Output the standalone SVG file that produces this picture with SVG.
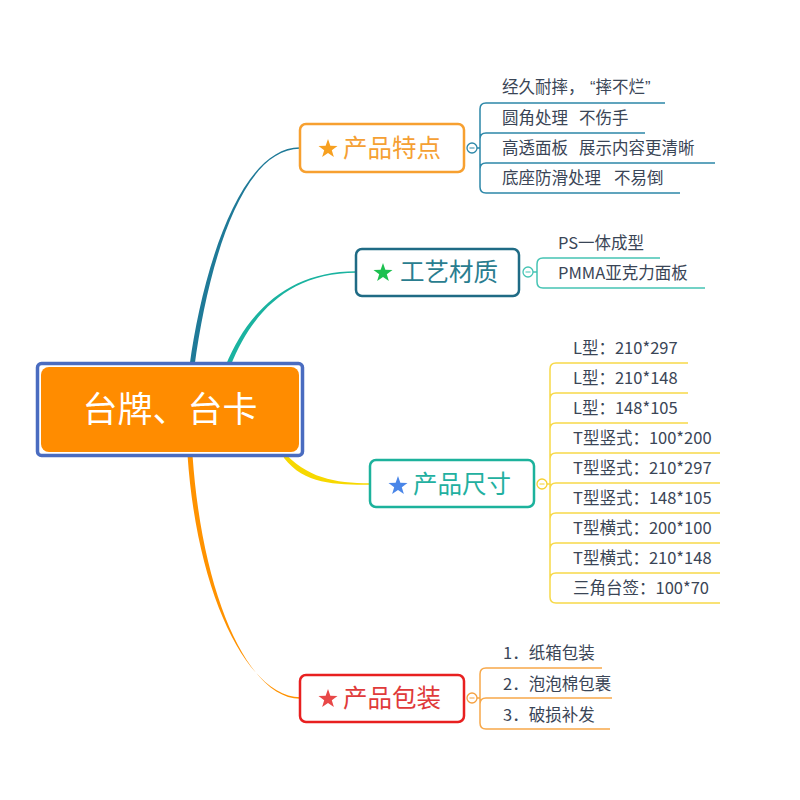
<svg xmlns="http://www.w3.org/2000/svg" xmlns:xlink="http://www.w3.org/1999/xlink" width="800" height="800" viewBox="0 0 800 800">
<style>
.bt{font-family:"Noto Sans CJK SC","Noto Sans",sans-serif;font-size:24.5px}
.ct{font-family:"Noto Sans CJK SC","Noto Sans",sans-serif;font-size:16.5px;fill:#3a4556}
.q{font-family:"Liberation Sans",sans-serif}
.br{fill:#fff;stroke-width:2.5}
.ln{fill:none;stroke-width:1.5}
.cc{fill:#fff;stroke-width:1.3}
</style>
<defs>
<polygon id="star" points="0,-10 2.35,-3.24 9.51,-3.09 3.8,1.24 5.88,8.09 0,4 -5.88,8.09 -3.8,1.24 -9.51,-3.09 -2.35,-3.24"/>
</defs>
<rect width="800" height="800" fill="#fff"/>
<g id="connectors">
<path d="M189.5,366 C202.5,270 240,147.2 300,147.2 L300,148.8 C240,148.8 207.5,270 194.5,366 Z" fill="#1f7a98"/>
<path d="M225.5,366 C248,310 290,271.2 356,271.2 L356,272.8 C290,272.8 252,312 230.5,366 Z" fill="#1ab3a0"/>
<path d="M282,450 C306,478 335,483.2 370,483.2 L370,484.8 C335,484.8 304,484 284,458 Z" fill="#f7d800"/>
<path d="M187.5,455 C197.5,600 250,697.2 300,697.2 L300,698.8 C250,698.8 202.5,600 192.5,455 Z" fill="#ff9200"/>
</g>
<g id="root">
<rect x="37.5" y="363.5" width="265" height="92" rx="4" fill="#fff" stroke="#4a6cc0" stroke-width="3.5"/>
<rect x="41" y="367" width="258" height="85" rx="8" fill="#ff8c00"/>
<text x="170" y="422" text-anchor="middle" font-family="Noto Sans CJK SC,sans-serif" font-size="35" fill="#fff">台牌、台卡</text>
</g>
<g id="b1">
<rect class="br" x="300" y="124" width="164" height="48" rx="6" stroke="#f7a030"/>
<use xlink:href="#star" href="#star" transform="translate(328,149)" fill="#f7a020"/>
<text class="bt" x="343" y="157" fill="#f5a033">产品特点</text>
<path class="ln" stroke="#2c87a8" d="M477,148 H480 M665,103 H486 Q480,103 480,109 V187 Q480,193 486,193 H680 M480,139 Q480,133 486,133 H645 M480,169 Q480,163 486,163 H715"/>
<circle class="cc" cx="472" cy="148" r="5" stroke="#2c87a8"/>
<path d="M469.5,148 H474.5" stroke="#2c87a8" stroke-width="1"/>
<text class="ct" x="502" y="93">经久耐摔，<tspan x="590" class="q">“</tspan>摔不烂<tspan class="q">”</tspan></text>
<text class="ct" x="502" y="124">圆角处理<tspan x="579">不伤手</tspan></text>
<text class="ct" x="502" y="154">高透面板<tspan x="579">展示内容更清晰</tspan></text>
<text class="ct" x="502" y="184">底座防滑处理<tspan x="614">不易倒</tspan></text>
</g>
<g id="b2">
<rect class="br" x="356" y="249" width="163" height="47" rx="6" stroke="#1f6b85"/>
<use xlink:href="#star" href="#star" transform="translate(383,273)" fill="#1dc050"/>
<text class="bt" x="400" y="281" fill="#2a7d8f">工艺材质</text>
<path class="ln" stroke="#45c4b4" d="M533,272 H537 M660,258 H543 Q537,258 537,264 V282 Q537,288 543,288 H705"/>
<circle class="cc" cx="528" cy="272" r="5" stroke="#45c4b4"/>
<path d="M525.5,272 H530.5" stroke="#45c4b4" stroke-width="1"/>
<text class="ct" x="558" y="249">PS一体成型</text>
<text class="ct" x="558" y="279">PMMA亚克力面板</text>
</g>
<g id="b3">
<rect class="br" x="370" y="460" width="164" height="47" rx="6" stroke="#1cb29c"/>
<use xlink:href="#star" href="#star" transform="translate(398,486)" fill="#4a86e8"/>
<text class="bt" x="413" y="493" fill="#22b0a0">产品尺寸</text>
<path class="ln" stroke="#f7d948" d="M547,484 H550 M688,363 H556 Q550,363 550,369 V597 Q550,603 556,603 H720 M550,399 Q550,393 556,393 H688 M550,429 Q550,423 556,423 H688 M550,459 Q550,453 556,453 H720 M550,489 Q550,483 556,483 H720 M550,519 Q550,513 556,513 H720 M550,549 Q550,543 556,543 H720 M550,579 Q550,573 556,573 H720"/>
<circle class="cc" cx="542" cy="484" r="5" stroke="#f5d030"/>
<path d="M539.5,484 H544.5" stroke="#f5d030" stroke-width="1"/>
<text class="ct" x="573" y="354">L型：210*297</text>
<text class="ct" x="573" y="384">L型：210*148</text>
<text class="ct" x="573" y="414">L型：148*105</text>
<text class="ct" x="573" y="444">T型竖式：100*200</text>
<text class="ct" x="573" y="474">T型竖式：210*297</text>
<text class="ct" x="573" y="504">T型竖式：148*105</text>
<text class="ct" x="573" y="534">T型横式：200*100</text>
<text class="ct" x="573" y="564">T型横式：210*148</text>
<text class="ct" x="573" y="594">三角台签：100*70</text>
</g>
<g id="b4">
<rect class="br" x="300" y="675" width="164" height="47" rx="6" stroke="#e82020"/>
<use xlink:href="#star" href="#star" transform="translate(328,699)" fill="#e84848"/>
<text class="bt" x="343" y="707" fill="#e03a3a">产品包装</text>
<path class="ln" stroke="#f7a84a" d="M477,698 H480 M602,668 H486 Q480,668 480,674 V723 Q480,729 486,729 H610 M480,704 Q480,698 486,698 H612"/>
<circle class="cc" cx="472" cy="698" r="5" stroke="#f5a040"/>
<path d="M469.5,698 H474.5" stroke="#f5a040" stroke-width="1"/>
<text class="ct" x="503" y="659">1．纸箱包装</text>
<text class="ct" x="503" y="690">2．泡泡棉包裹</text>
<text class="ct" x="503" y="721">3．破损补发</text>
</g>
</svg>
